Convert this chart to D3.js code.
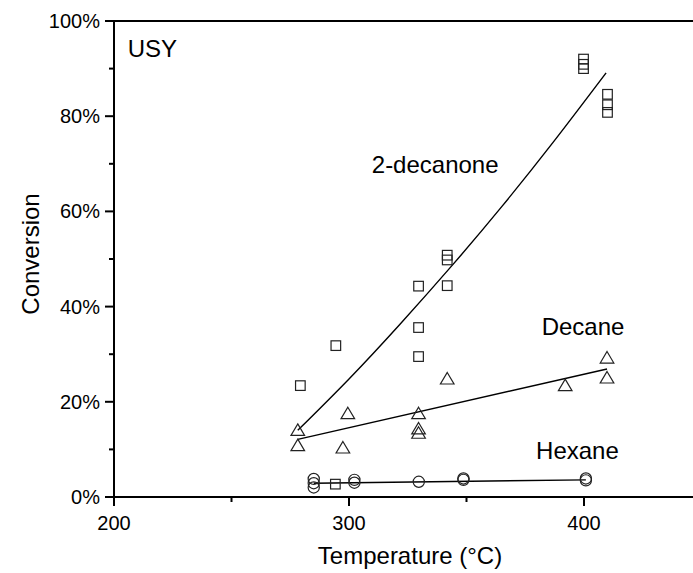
<!DOCTYPE html>
<html><head><meta charset="utf-8">
<script src="https://cdn.jsdelivr.net/npm/d3@7"></script>
<style>
html,body{margin:0;padding:0;background:#fff;}
svg{display:block;}
text{font-family:"Liberation Sans",Arial,sans-serif;fill:#000;}
</style></head>
<body>
<svg id="chart" width="693" height="573"></svg>
<script>
// ---- data (temperature °C, conversion %) ----
const decanoneT   = [279.3,294.4,294.2,329.6,329.6,329.6,341.8,341.8,341.8,399.8,399.8,399.8,410,410,410];
const decanoneC   = [23.4,31.8,2.7,44.3,35.6,29.5,50.8,49.8,44.4,92.0,90.9,90.0,84.6,82.4,80.8];
const decaneT     = [278.2,278.2,299.5,297.4,329.6,329.6,329.6,341.8,392,409.8,409.8];
const decaneC     = [14.1,10.9,17.6,10.4,17.6,14.4,13.5,24.9,23.5,29.3,25.1];
const hexaneT     = [285,285,285,302.3,302.3,329.7,348.7,348.7,400.8,400.8];
const hexaneC     = [3.8,2.9,2.0,3.6,3.0,3.2,3.9,3.6,3.9,3.5];
// fitted trend lines
const decanoneFitT = [278.2,300,321.7,343.8,365,387,409.4];
const decanoneFitC = [14.0,24.8,36.3,48.6,61.0,74.6,89.1];
const decaneFitT   = [278.2,409.8];
const decaneFitC   = [12.1,26.9];
const hexaneFitT   = [285,400.8];
const hexaneFitC   = [2.9,3.6];
const xTicks = [200,300,400];
const xMinor = [250,350];
const yTicks = [0,20,40,60,80,100];
const yMinor = [10,30,50,70,90];
const labels = [
  {text:"USY", t:205.8, c:92.4},
  {text:"2-decanone", t:309.7, c:68.0},
  {text:"Decane", t:382.0, c:34.0},
  {text:"Hexane", t:379.6, c:7.9}
];

const W = 693, H = 573;
const x = d3.scaleLinear().domain([200,450]).range([114,701.5]);
const y = d3.scaleLinear().domain([0,100]).range([497,21]);
const svg = d3.select("#chart");

// axes frame
const g = svg.append("g");
g.append("line").attr("x1",x(200)).attr("x2",W).attr("y1",y(100)).attr("y2",y(100))
  .attr("stroke","#000").attr("stroke-width",2);
g.append("line").attr("x1",x(200)).attr("x2",W).attr("y1",y(0)).attr("y2",y(0))
  .attr("stroke","#000").attr("stroke-width",2);
g.append("line").attr("x1",x(200)).attr("x2",x(200)).attr("y1",y(100)-1).attr("y2",y(0)+1)
  .attr("stroke","#000").attr("stroke-width",2);

// x ticks
g.selectAll(".xt").data(xTicks).join("line")
  .attr("x1",d=>x(d)).attr("x2",d=>x(d)).attr("y1",y(0)).attr("y2",y(0)+9)
  .attr("stroke","#000").attr("stroke-width",2);
g.selectAll(".xm").data(xMinor).join("line")
  .attr("x1",d=>x(d)).attr("x2",d=>x(d)).attr("y1",y(0)).attr("y2",y(0)+5)
  .attr("stroke","#000").attr("stroke-width",2);
g.selectAll(".xl").data(xTicks).join("text")
  .attr("x",d=>x(d)).attr("y",y(0)+33).attr("text-anchor","middle")
  .attr("font-size",20).text(d=>d);

// y ticks
g.selectAll(".yt").data(yTicks).join("line")
  .attr("x1",x(200)-9).attr("x2",x(200)).attr("y1",d=>y(d)).attr("y2",d=>y(d))
  .attr("stroke","#000").attr("stroke-width",2);
g.selectAll(".ym").data(yMinor).join("line")
  .attr("x1",x(200)-5).attr("x2",x(200)).attr("y1",d=>y(d)).attr("y2",d=>y(d))
  .attr("stroke","#000").attr("stroke-width",2);
g.selectAll(".yl").data(yTicks).join("text")
  .attr("x",x(200)-14).attr("y",d=>y(d)).attr("dy","0.35em").attr("text-anchor","end")
  .attr("font-size",20).text(d=>d+"%");

// axis titles
svg.append("text").attr("x",410).attr("y",564).attr("text-anchor","middle")
  .attr("font-size",24).text("Temperature (°C)");
svg.append("text").attr("transform","translate(39,254) rotate(-90)").attr("text-anchor","middle")
  .attr("font-size",24).text("Conversion");

// fit lines
const line = d3.line().x(d=>x(d[0])).y(d=>y(d[1]));
const fits = [
  {T:decanoneFitT, C:decanoneFitC, curve:d3.curveNatural},
  {T:decaneFitT, C:decaneFitC, curve:d3.curveLinear},
  {T:hexaneFitT, C:hexaneFitC, curve:d3.curveLinear}
];
fits.forEach(f=>{
  svg.append("path").datum(f.T.map((t,i)=>[t,f.C[i]]))
    .attr("d", line.curve(f.curve)).attr("fill","none")
    .attr("stroke","#000").attr("stroke-width",1.4);
});

// markers
const mk = svg.append("g").attr("fill","none").attr("stroke","#222").attr("stroke-width",1.2);
mk.selectAll(".sq").data(decanoneT.map((t,i)=>[t,decanoneC[i]])).join("rect")
  .attr("x",d=>x(d[0])-4.8).attr("y",d=>y(d[1])-4.8).attr("width",9.6).attr("height",9.6);
mk.selectAll(".tri").data(decaneT.map((t,i)=>[t,decaneC[i]])).join("path")
  .attr("d",d=>{const cx=x(d[0]),cy=y(d[1]);return `M${cx},${cy-6}L${cx+6.8},${cy+5.5}L${cx-6.8},${cy+5.5}Z`;});
mk.selectAll(".ci").data(hexaneT.map((t,i)=>[t,hexaneC[i]])).join("circle")
  .attr("cx",d=>x(d[0])).attr("cy",d=>y(d[1])).attr("r",5.6);

// annotations
svg.selectAll(".lab").data(labels).join("text")
  .attr("x",d=>x(d.t)).attr("y",d=>y(d.c)).attr("font-size",24).text(d=>d.text);
</script>
</body></html>
